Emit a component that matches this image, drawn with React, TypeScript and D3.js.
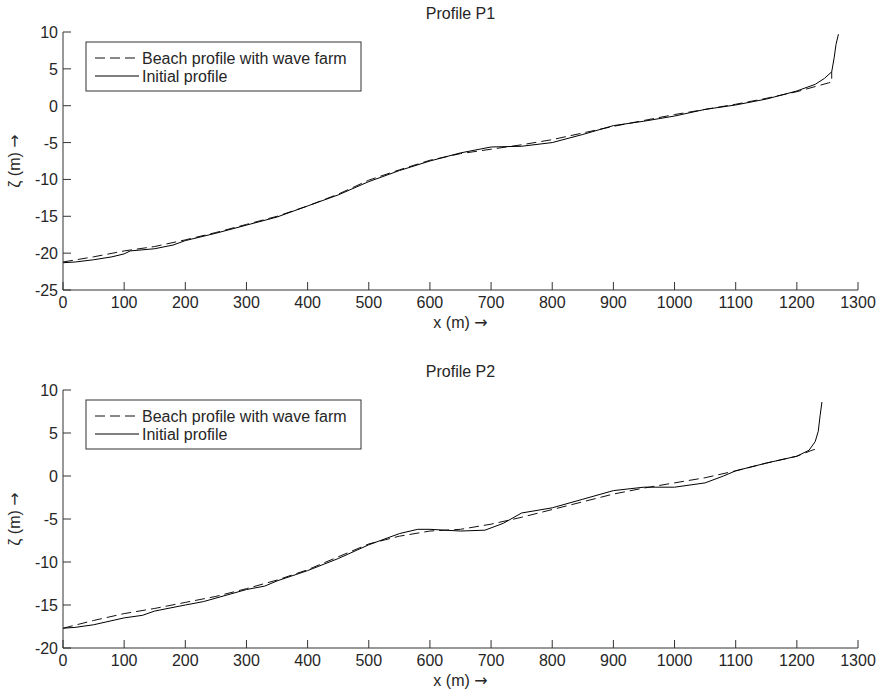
import React from "react";
import * as d3 from "d3";

// Profile P1 (x in m, zeta in m)
const p1InitX = [0, 20, 50, 80, 100, 110, 150, 180, 200, 250, 300, 350, 400, 450, 500, 550, 600, 650, 700, 750, 800, 850, 900, 950, 1000, 1050, 1100, 1150, 1200, 1230, 1245, 1257, 1261, 1264, 1268];
const p1InitZ = [-21.3, -21.2, -20.9, -20.5, -20.1, -19.7, -19.4, -18.9, -18.3, -17.3, -16.2, -15.1, -13.6, -12.1, -10.3, -8.8, -7.5, -6.4, -5.6, -5.5, -5.0, -3.9, -2.7, -2.1, -1.4, -0.5, 0.1, 0.9, 2.0, 2.9, 3.7, 4.6, 6.5, 8.3, 9.7];
const p1FarmX = [0, 50, 100, 150, 200, 250, 300, 350, 400, 450, 500, 550, 600, 650, 700, 750, 800, 850, 900, 950, 1000, 1050, 1100, 1150, 1200, 1230, 1252, 1257, 1257];
const p1FarmZ = [-21.2, -20.5, -19.7, -19.1, -18.2, -17.2, -16.1, -15.0, -13.6, -12.0, -10.1, -8.7, -7.4, -6.5, -5.9, -5.3, -4.6, -3.7, -2.8, -2.0, -1.2, -0.5, 0.2, 1.0, 1.9, 2.6, 3.1, 3.2, 4.6];

// Profile P2
const p2InitX = [0, 20, 50, 100, 130, 150, 200, 230, 250, 300, 330, 350, 400, 450, 500, 550, 580, 600, 650, 690, 720, 750, 800, 850, 900, 950, 1000, 1050, 1080, 1100, 1150, 1200, 1220, 1230, 1235, 1238, 1241];
const p2InitZ = [-17.7, -17.6, -17.3, -16.5, -16.2, -15.7, -15.0, -14.6, -14.2, -13.2, -12.8, -12.2, -11.0, -9.6, -8.0, -6.7, -6.2, -6.2, -6.4, -6.3, -5.5, -4.3, -3.7, -2.7, -1.7, -1.3, -1.3, -0.8, 0.0, 0.6, 1.5, 2.3, 3.0, 4.0, 5.2, 7.0, 8.6];
const p2FarmX = [0, 50, 100, 150, 200, 250, 300, 350, 400, 450, 500, 550, 600, 650, 700, 750, 800, 850, 900, 950, 1000, 1050, 1100, 1150, 1200, 1225, 1235];
const p2FarmZ = [-17.7, -16.8, -16.0, -15.4, -14.7, -14.0, -13.1, -12.1, -10.9, -9.4, -7.9, -7.0, -6.4, -6.2, -5.6, -4.8, -3.9, -3.0, -2.1, -1.4, -0.8, -0.2, 0.6, 1.5, 2.3, 3.0, 3.2];

const xTicks = [0, 100, 200, 300, 400, 500, 600, 700, 800, 900, 1000, 1100, 1200, 1300];
const p1YTicks = [-25, -20, -15, -10, -5, 0, 5, 10];
const p2YTicks = [-20, -15, -10, -5, 0, 5, 10];
const legendLabels = ["Beach profile with wave farm", "Initial profile"];

const W = 883;
const H = 691;
const left = 63;
const right = 858;
const font = "Arial, 'Liberation Sans', sans-serif";
const fs = 16;
const textColor = "#262626";
const axisColor = "#333";
const dash = "10,5";

function Arrow() {
  return <tspan fontFamily="'DejaVu Sans', sans-serif">→</tspan>;
}

function Panel({ top, bottom, title, yDomain, yTicks, initX, initZ, farmX, farmZ }) {
  const x = d3.scaleLinear().domain([0, 1300]).range([left, right]);
  const y = d3.scaleLinear().domain(yDomain).range([bottom, top]);
  const line = d3.line<number[]>().x((d) => x(d[0])).y((d) => y(d[1]));
  const initPts = initX.map((v, i) => [v, initZ[i]]);
  const farmPts = farmX.map((v, i) => [v, farmZ[i]]);
  const midY = (top + bottom) / 2;
  const lx = left + 23;
  const ly = top + 10;

  return (
    <g>
      <text x={(left + right) / 2} y={top - 13} textAnchor="middle" fontSize={fs} fill={textColor} fontFamily={font}>
        {title}
      </text>

      {/* data */}
      <path d={line(farmPts)} fill="none" stroke="#111" strokeWidth={1} strokeDasharray={dash} />
      <path d={line(initPts)} fill="none" stroke="#000" strokeWidth={1} />

      {/* axes, left and bottom only */}
      <line x1={left} x2={left} y1={top} y2={bottom} stroke={axisColor} strokeWidth={1} />
      <line x1={left} x2={right} y1={bottom} y2={bottom} stroke={axisColor} strokeWidth={1} />
      {xTicks.map((t) => (
        <g key={`x${t}`}>
          <line x1={x(t)} x2={x(t)} y1={bottom} y2={bottom - 8} stroke={axisColor} />
          <text x={x(t)} y={bottom + 18} textAnchor="middle" fontSize={fs} fill={textColor} fontFamily={font}>
            {t}
          </text>
        </g>
      ))}
      {yTicks.map((t) => (
        <g key={`y${t}`}>
          <line x1={left} x2={left + 8} y1={y(t)} y2={y(t)} stroke={axisColor} />
          <text x={left - 5} y={y(t) + 6} textAnchor="end" fontSize={fs} fill={textColor} fontFamily={font}>
            {t}
          </text>
        </g>
      ))}

      <text x={(left + right) / 2} y={bottom + 38} textAnchor="middle" fontSize={fs} fill={textColor} fontFamily={font}>
        x (m) <Arrow />
      </text>
      <text
        transform={`translate(${20}, ${midY}) rotate(-90)`}
        textAnchor="middle"
        fontSize={fs}
        fill={textColor}
        fontFamily={font}
      >
        ζ (m) <Arrow />
      </text>

      {/* legend */}
      <rect x={lx} y={ly} width={275} height={49} fill="white" stroke={axisColor} strokeWidth={1} />
      <line x1={lx + 9} x2={lx + 53} y1={ly + 16} y2={ly + 16} stroke="#111" strokeDasharray={dash} />
      <text x={lx + 56} y={ly + 22} fontSize={fs} fill={textColor} fontFamily={font}>
        {legendLabels[0]}
      </text>
      <line x1={lx + 9} x2={lx + 53} y1={ly + 34} y2={ly + 34} stroke="#000" />
      <text x={lx + 56} y={ly + 40} fontSize={fs} fill={textColor} fontFamily={font}>
        {legendLabels[1]}
      </text>
    </g>
  );
}

export default function App() {
  return (
    <svg
      width={W}
      height={H}
      viewBox={`0 0 ${W} ${H}`}
      style={{ position: "fixed", left: 0, top: 0, background: "white" }}
    >
      <rect width={W} height={H} fill="white" />
      <Panel
        top={32}
        bottom={290}
        title="Profile P1"
        yDomain={[-25, 10]}
        yTicks={p1YTicks}
        initX={p1InitX}
        initZ={p1InitZ}
        farmX={p1FarmX}
        farmZ={p1FarmZ}
      />
      <Panel
        top={390}
        bottom={648}
        title="Profile P2"
        yDomain={[-20, 10]}
        yTicks={p2YTicks}
        initX={p2InitX}
        initZ={p2InitZ}
        farmX={p2FarmX}
        farmZ={p2FarmZ}
      />
    </svg>
  );
}
